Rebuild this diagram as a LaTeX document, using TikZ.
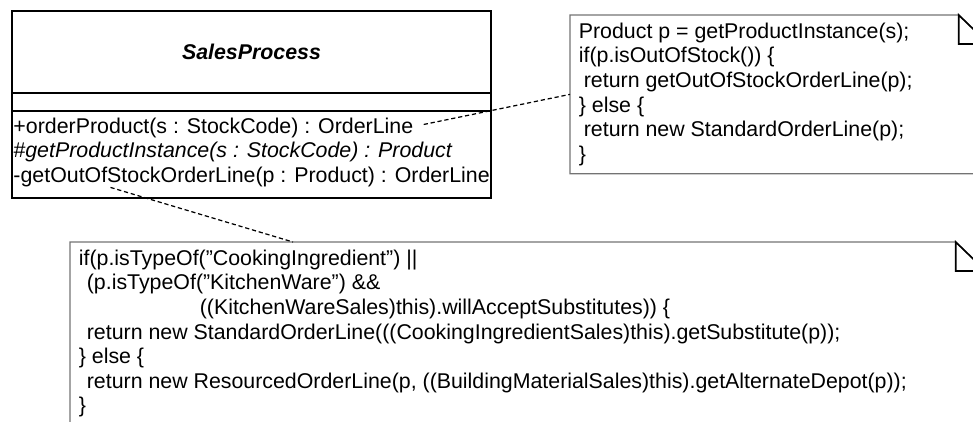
\documentclass[tikz,border=0pt]{standalone}
\usepackage{fontspec}
\setmainfont{Liberation Sans}
\usepackage{tikz}

\begin{document}
\begin{tikzpicture}[
    font=\fontsize{12.15pt}{14pt}\selectfont,
    compart/.style  ={draw=black, line width=0.9pt, minimum width=9.58cm, inner sep=0pt},
    oper/.style     ={anchor=base west, inner sep=1.5pt},
    notearea/.style ={anchor=north west, inner sep=0pt},
    notetext/.style ={anchor=north west, align=left, inner xsep=0.17cm, inner ysep=0.15cm},
    noteline/.style ={draw=black!55, line width=0.8pt},
    foldline/.style ={draw=black, line width=0.9pt},
    lnk/.style      ={draw=black, line width=0.7pt, dash pattern=on 2.4pt off 1.6pt}
  ]

  \useasboundingbox (0,0) rectangle (19.46,-8.42);
  \clip (0,0) rectangle (19.46,-8.42);

  % --- class ---------------------------------------------------------------
  \node[compart, minimum height=1.64cm] (cls)  at (5.03,-1.04) {\textbf{\textit{SalesProcess}}};
  \node[compart, minimum height=0.36cm] (attr) at (5.03,-2.04) {};
  \node[compart, minimum height=1.74cm] (ops)  at (5.03,-3.09) {};

  \node[oper] (op1) at (0.21,-2.66) {+orderProduct(s : StockCode) : OrderLine};
  \node[oper] (op2) at (0.21,-3.15) {\textit{\#getProductInstance(s : StockCode) : Product}};
  \node[oper] (op3) at (0.21,-3.64) {-getOutOfStockOrderLine(p : Product) : OrderLine};

  % --- note: orderProduct ----------------------------------------------------
  \node[notearea, minimum width=8.36cm, minimum height=3.16cm] (n1) at (11.40,-0.30) {};
  \draw[noteline] (n1.north west) -- ([xshift=-0.60cm]n1.north east)
    -- ([yshift=-0.58cm]n1.north east) -- (n1.south east) -- (n1.south west) -- cycle;
  \draw[foldline] ([xshift=-0.60cm]n1.north east) -- ([xshift=-0.60cm,yshift=-0.58cm]n1.north east)
    -- ([yshift=-0.58cm]n1.north east) -- cycle;
  \node[notetext] (t1) at (n1.north west)
    {Product p = getProductInstance(s);\\
     if(p.isOutOfStock()) \{\\
     \hspace*{0.10cm}return getOutOfStockOrderLine(p);\\
     \} else \{\\
     \hspace*{0.10cm}return new StandardOrderLine(p);\\
     \}};

  % --- note: getOutOfStockOrderLine ------------------------------------------
  \node[notearea, minimum width=18.30cm, minimum height=3.80cm] (n2) at (1.40,-4.84) {};
  \draw[noteline] (n2.north west) -- ([xshift=-0.60cm]n2.north east)
    -- ([yshift=-0.58cm]n2.north east) -- (n2.south east) -- (n2.south west) -- cycle;
  \draw[foldline] ([xshift=-0.60cm]n2.north east) -- ([xshift=-0.60cm,yshift=-0.58cm]n2.north east)
    -- ([yshift=-0.58cm]n2.north east) -- cycle;
  \node[notetext] (t2) at (n2.north west)
    {if(p.isTypeOf("CookingIngredient") ||\\
     \hspace*{0.16cm}(p.isTypeOf("KitchenWare") \&\&\\
     \hspace*{2.42cm}((KitchenWareSales)this).willAcceptSubstitutes)) \{\\
     \hspace*{0.16cm}return new StandardOrderLine(((CookingIngredientSales)this).getSubstitute(p));\\
     \} else \{\\
     \hspace*{0.16cm}return new ResourcedOrderLine(p, ((BuildingMaterialSales)this).getAlternateDepot(p));\\
     \}};

  % --- links -----------------------------------------------------------------
  \draw[lnk] ([xshift=0.15cm,yshift=0.06cm]op1.east) -- (n1.west);
  \draw[lnk] ([xshift=2.0cm,yshift=0.04cm]op3.south west) -- ([xshift=4.46cm]n2.north west);

\end{tikzpicture}
\end{document}
